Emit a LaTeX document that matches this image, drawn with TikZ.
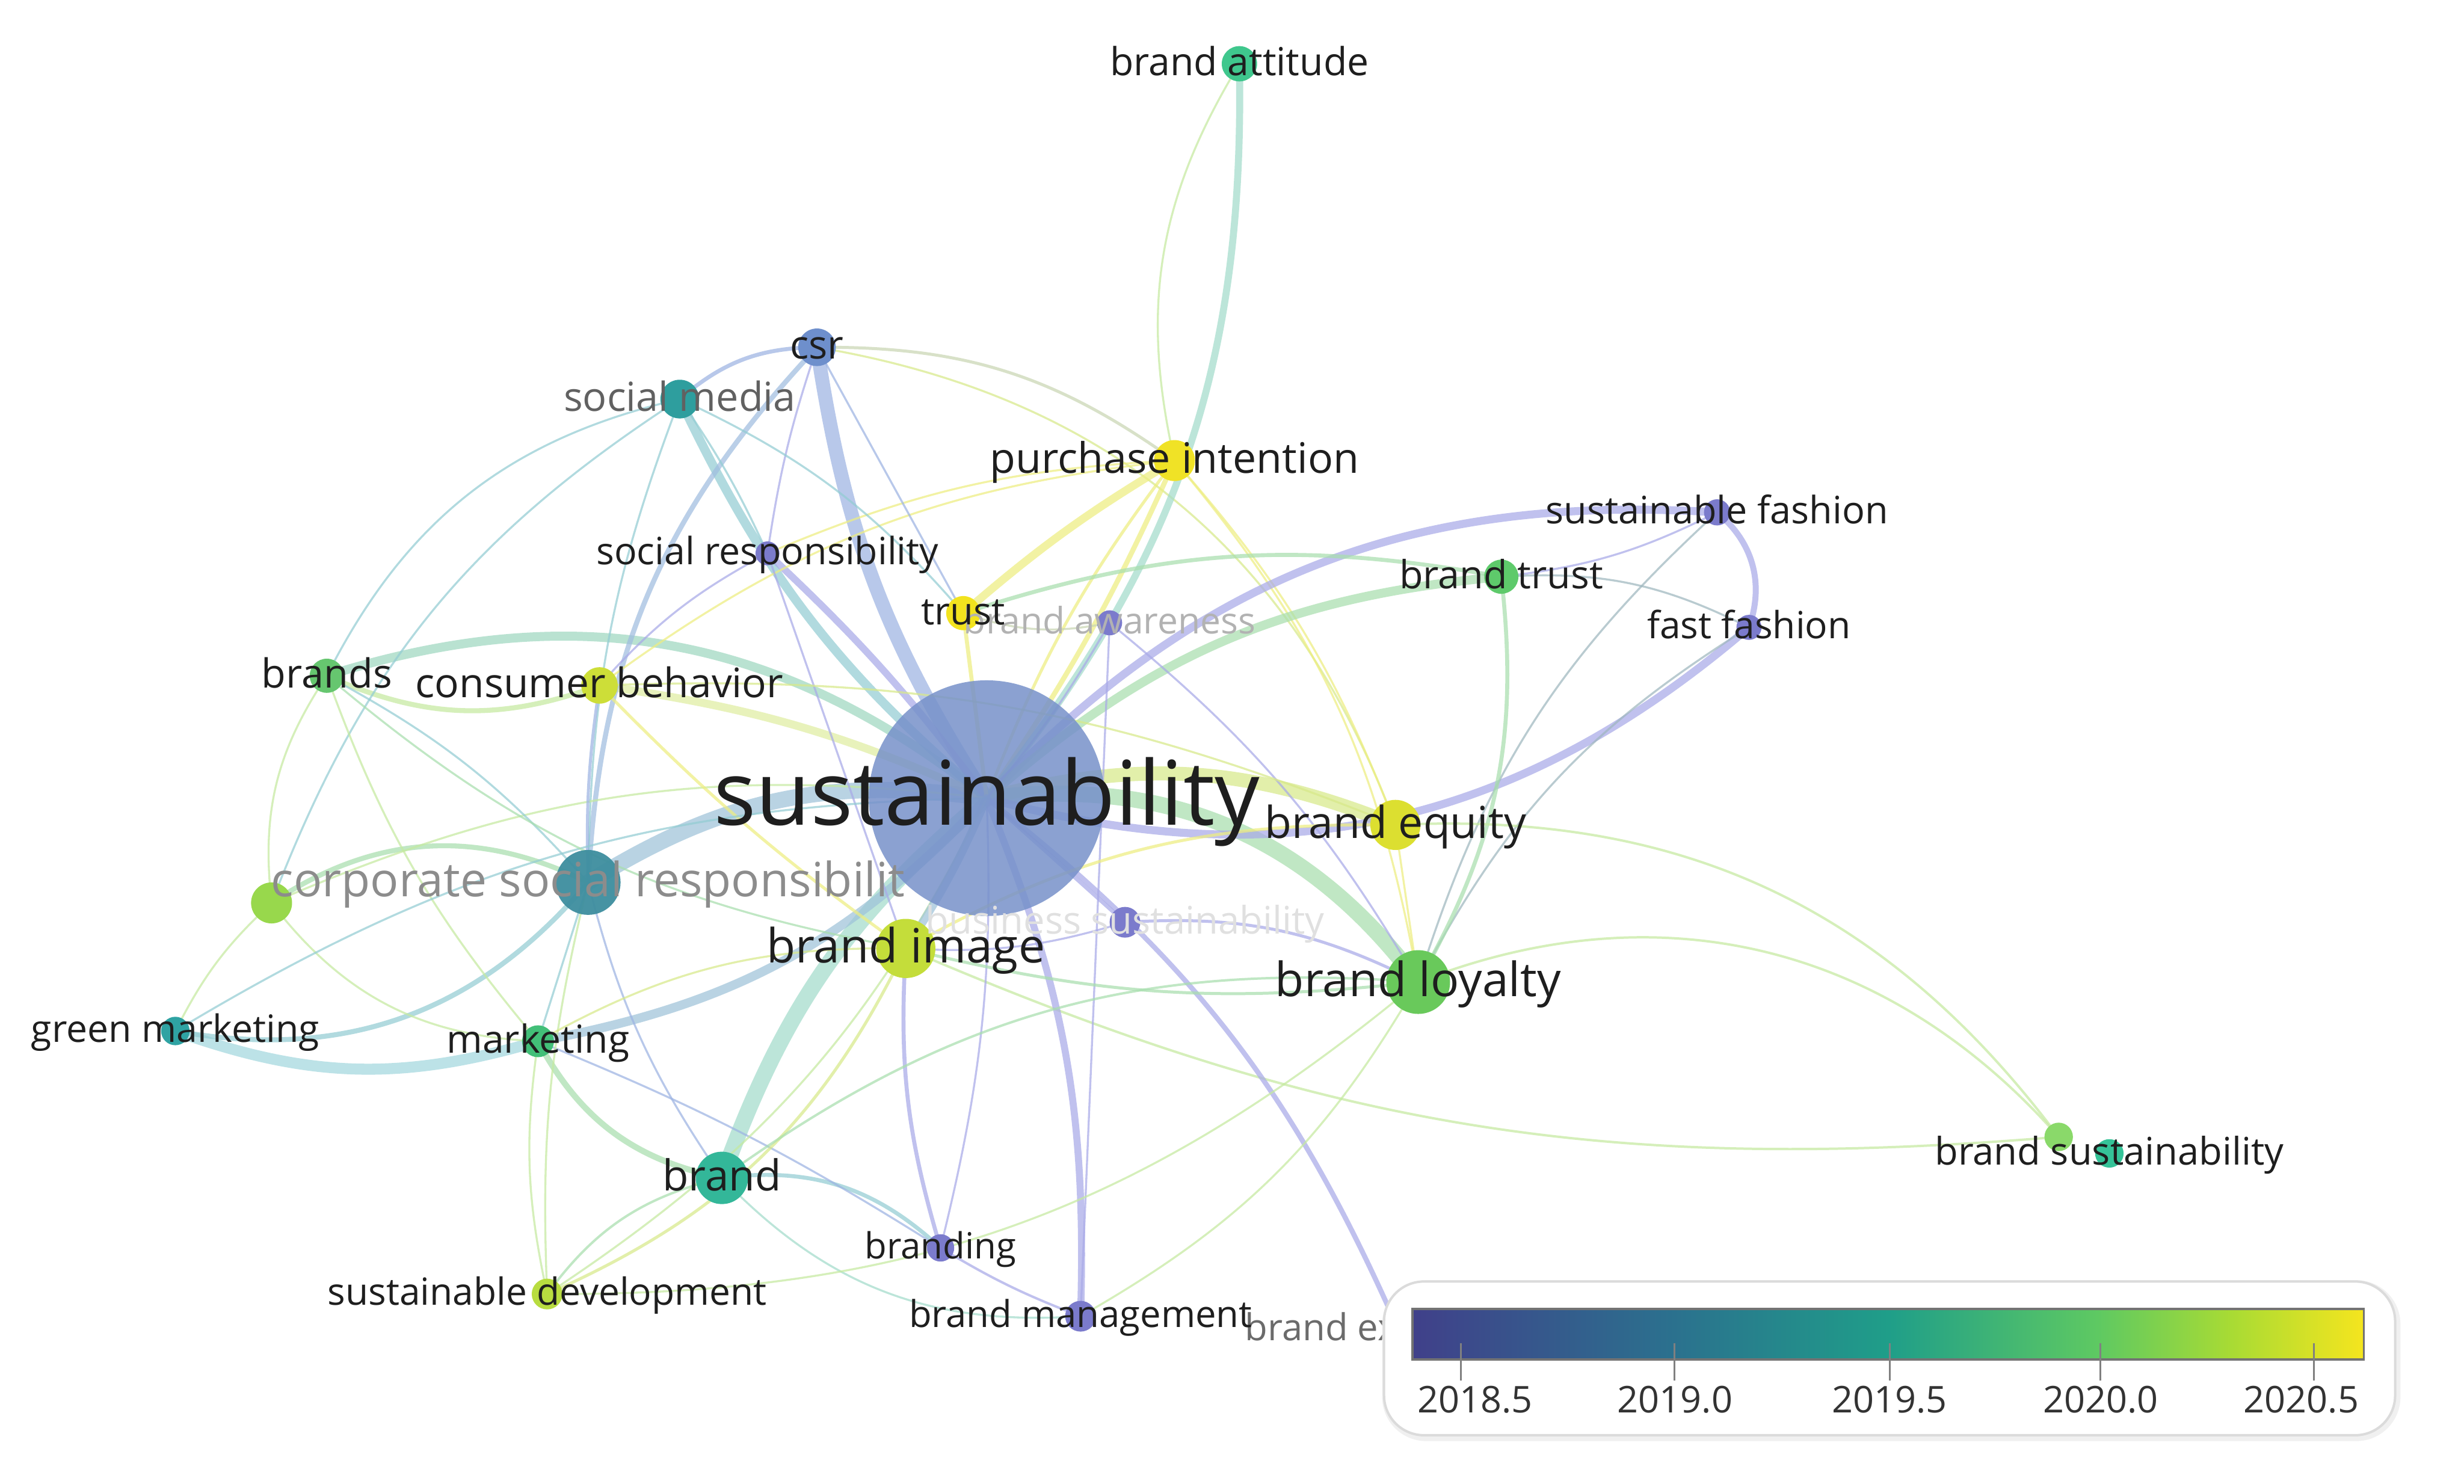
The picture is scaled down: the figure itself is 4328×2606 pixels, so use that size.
\documentclass[tikz,border=0pt]{standalone}
\usepackage{fontspec}
\setmainfont{Open Sans}
\pgfdeclarelayer{bg}
\pgfdeclarelayer{edges}
\pgfdeclarelayer{top}
\pgfsetlayers{bg,edges,main,top}
% node colours
\definecolor{cSust}{HTML}{7791CA}
\definecolor{cCsr}{HTML}{6E8FCC}
\definecolor{cSmedia}{HTML}{2E9E9E}
\definecolor{cYellow}{HTML}{F0E226}
\definecolor{cTrust}{HTML}{F2E31E}
\definecolor{cPurple}{HTML}{7B7BCC}
\definecolor{cBtrust}{HTML}{5ECA6B}
\definecolor{cBrands}{HTML}{66C66F}
\definecolor{cCbehav}{HTML}{CDDE38}
\definecolor{cBequity}{HTML}{DCDF30}
\definecolor{cCorp}{HTML}{3E8E9F}
\definecolor{cGnode}{HTML}{98D84C}
\definecolor{cBimage}{HTML}{C4DD3A}
\definecolor{cBloyal}{HTML}{69C95B}
\definecolor{cGmark}{HTML}{2FA3A3}
\definecolor{cMark}{HTML}{42BF78}
\definecolor{cBsA}{HTML}{8AD96A}
\definecolor{cBsB}{HTML}{35C398}
\definecolor{cBrand}{HTML}{33B799}
\definecolor{cSdev}{HTML}{B8DC40}
\definecolor{cAtt}{HTML}{3FC78D}
% edge colours
\definecolor{eBlue}{HTML}{9DB4E3}
\definecolor{eBlueB}{HTML}{A0BDE0}
\definecolor{eSteel}{HTML}{9EC3D9}
\definecolor{eTeal}{HTML}{93CDD3}
\definecolor{eCyan}{HTML}{A3D8DF}
\definecolor{eGT}{HTML}{9ED8C0}
\definecolor{eGreen}{HTML}{A8DFAE}
\definecolor{eLgreen}{HTML}{C5EAA0}
\definecolor{eYG}{HTML}{D8E98A}
\definecolor{eYellow}{HTML}{EEEE80}
\definecolor{ePurple}{HTML}{A9AAE8}
\definecolor{eGray}{HTML}{C9D6B4}
\definecolor{eGrayB}{HTML}{9FB7BF}
\definecolor{eMint}{HTML}{A3DCCB}
% text colours
\definecolor{labc}{HTML}{1E1E1E}
% legend colours
\definecolor{v0}{HTML}{40408A}
\definecolor{v1}{HTML}{2B718E}
\definecolor{v2}{HTML}{1F9E89}
\definecolor{v3}{HTML}{5EC962}
\definecolor{v4}{HTML}{A8DB34}
\definecolor{v5}{HTML}{F5E51E}
\pgfdeclarehorizontalshading{viridisbar}{100bp}{color(0bp)=(v0); color(25bp)=(v0); color(38.75bp)=(v1); color(50bp)=(v2); color(61bp)=(v3); color(68bp)=(v4); color(75bp)=(v5); color(100bp)=(v5)}
\newcommand{\lbs}{\rule[-0.25em]{0pt}{1.1em}}
\tikzset{
  nd/.style={circle, inner sep=0pt, draw=none, minimum size={2*#1*0.01cm}},
  lb/.style={inner sep=0pt, text=labc, font=\fontsize{#1}{#1}\selectfont},
  ed/.style={line cap=round, draw opacity=0.72},
}
\begin{document}
\begin{tikzpicture}[x=0.01cm,y=-0.01cm]
\begin{pgfonlayer}{bg}
\fill[white] (0,0) rectangle (4328,2606);
\end{pgfonlayer}
\useasboundingbox (0,0) rectangle (4328,2606);

% ---------------- nodes (circles)
\node[nd=207, fill=cSust, fill opacity=0.85] (sust) at (1733,1402) {};
\node[nd=33, fill=cCsr] (csr) at (1435,610) {};
\node[nd=34, fill=cSmedia] (smedia) at (1194,701) {};
\node[nd=36, fill=cYellow] (purch) at (2063,809) {};
\node[nd=21, fill=cPurple] (sresp) at (1348,972) {};
\node[nd=23, fill=cPurple] (sfash) at (3016,900) {};
\node[nd=30, fill=cBtrust] (btrust) at (2637,1013) {};
\node[nd=22, fill=cPurple] (ffash) at (3072,1102) {};
\node[nd=30, fill=cTrust] (trust) at (1692,1077) {};
\node[nd=22, fill=cPurple] (baware) at (1949,1094) {};
\node[nd=30, fill=cBrands] (brands) at (574,1187) {};
\node[nd=32, fill=cCbehav] (cbehav) at (1053,1204) {};
\node[nd=44, fill=cBequity] (bequity) at (2451,1449) {};
\node[nd=57, fill=cCorp, fill opacity=0.95] (corpsr) at (1033,1550) {};
\node[nd=36, fill=cGnode] (gnode) at (477,1586) {};
\node[nd=27, fill=cPurple] (bsust) at (1976,1620) {};
\node[nd=52, fill=cBimage] (bimage) at (1591,1666) {};
\node[nd=56, fill=cBloyal] (bloyal) at (2491,1725) {};
\node[nd=25, fill=cGmark] (gmark) at (308,1811) {};
\node[nd=28, fill=cMark] (mark) at (945,1829) {};
\node[nd=25, fill=cBsA] (bsustA) at (3616,1997) {};
\node[nd=25, fill=cBsB] (bsustB) at (3705,2026) {};
\node[nd=46, fill=cBrand] (brand) at (1268,2069) {};
\node[nd=24, fill=cPurple] (branding) at (1652,2192) {};
\node[nd=27, fill=cSdev] (sdev) at (961,2273) {};
\node[nd=27, fill=cPurple] (bmgmt) at (1898,2312) {};
\node[nd=24, fill=cPurple] (bex) at (2456,2335) {};
\node[nd=31, fill=cAtt] (batt) at (2177,112) {};

% ---------------- edges
\begin{pgfonlayer}{edges}
\draw[ed, eBlue, line width=7pt] (sust.center) to[bend left=12] (csr.center);
\draw[ed, eSteel, line width=8pt] (corpsr.center) to[bend left=20] (sust.center);
\draw[ed, eGT, line width=4.5pt] (brands.center) to[bend left=28] (sust.center);
\draw[ed, eYG!80, line width=4pt] (cbehav.center) to[bend left=8] (sust.center);
\draw[ed, eLgreen, line width=2.5pt] (brands.center) to[bend right=22] (cbehav.center);
\draw[ed, eYG, line width=7pt] (sust.center) to[bend left=18] (bequity.center);
\draw[ed, eGreen, line width=8pt] (sust.center) to[bend left=30] (bloyal.center);
\draw[ed, eMint, line width=8pt] (brand.center) to[bend left=15] (sust.center);
\draw[ed, eSteel, line width=4.5pt] (mark.center) to[bend right=18] (sust.center);
\draw[ed, eCyan, line width=5.5pt] (gmark.center) to[bend right=18] (mark.center);
\draw[ed, eTeal, line width=2.5pt] (gmark.center) to[bend right=30] (corpsr.center);
\draw[ed, eTeal, line width=4.5pt] (smedia.center) to[bend right=12] (sust.center);
\draw[ed, eBlue, line width=2pt] (smedia.center) to[bend left=20] (csr.center);
\draw[ed, eBlueB, line width=2.5pt] (csr.center) to[bend right=20] (corpsr.center);
\draw[ed, eTeal, line width=1pt] (smedia.center) to[bend right=10] (corpsr.center);
\draw[ed, eTeal, line width=1pt] (brands.center) to[bend left=25] (smedia.center);
\draw[ed, eTeal, line width=1pt] (smedia.center) to[bend right=18] (gnode.center);
\draw[ed, ePurple, line width=1pt] (csr.center) to[bend right=5] (sresp.center);
\draw[ed, eTeal, line width=1pt] (smedia.center) to[bend left=5] (sresp.center);
\draw[ed, ePurple, line width=3.5pt] (sresp.center) to[bend left=5] (sust.center);
\draw[ed, ePurple, line width=1pt] (sresp.center) to[bend right=10] (cbehav.center);
\draw[ed, eGray, line width=1.5pt] (csr.center) to[bend left=18] (purch.center);
\draw[ed, eYG, line width=1pt] (csr.center) to[bend left=30] (bequity.center);
\draw[ed, eYellow, line width=4pt] (purch.center) to[bend right=5] (trust.center);
\draw[ed, eYellow, line width=2.5pt] (purch.center) to[bend left=5] (sust.center);
\draw[ed, eYellow, line width=1.5pt] (purch.center) to[bend right=8] (sust.center);
\draw[ed, eYellow, line width=1pt] (purch.center) to[bend left=10] (bequity.center);
\draw[ed, eYellow, line width=1pt] (purch.center) to[bend left=15] (bloyal.center);
\draw[ed, eYellow, line width=1pt] (purch.center) to[bend right=15] (cbehav.center);
\draw[ed, eYellow, line width=1pt] (purch.center) to[bend right=10] (sresp.center);
\draw[ed, eMint, line width=3.5pt] (batt.center) to[bend left=20] (sust.center);
\draw[ed, eLgreen, line width=1pt] (batt.center) to[bend right=22] (purch.center);
\draw[ed, ePurple, line width=4pt] (sust.center) to[bend right=28] (ffash.center);
\draw[ed, ePurple, line width=4pt] (sust.center) to[bend left=25] (sfash.center);
\draw[ed, ePurple, line width=3pt] (sfash.center) to[bend left=35] (ffash.center);
\draw[ed, ePurple, line width=1pt] (sfash.center) to[bend left=10] (btrust.center);
\draw[ed, eGrayB, line width=1pt] (sfash.center) to[bend right=15] (bloyal.center);
\draw[ed, eGrayB, line width=1pt] (ffash.center) to[bend right=15] (bloyal.center);
\draw[ed, eGreen, line width=4.5pt] (btrust.center) to[bend right=18] (sust.center);
\draw[ed, eGreen, line width=2pt] (btrust.center) to[bend right=14] (trust.center);
\draw[ed, eGreen, line width=2pt] (btrust.center) to[bend left=18] (bloyal.center);
\draw[ed, eGrayB, line width=1pt] (btrust.center) to[bend left=15] (ffash.center);
\draw[ed, eYellow, line width=1pt] (bequity.center) to (bloyal.center);
\draw[ed, eLgreen, line width=1.2pt] (bloyal.center) to[bend left=35] (bsustA.center);
\draw[ed, eLgreen, line width=1.2pt] (bequity.center) to[bend left=28] (bsustA.center);
\draw[ed, eLgreen, line width=1.2pt] (bimage.center) to[bend right=14] (bsustA.center);
\draw[ed, ePurple, line width=3.5pt] (bmgmt.center) to[bend right=12] (sust.center);
\draw[ed, ePurple, line width=2.5pt] (sust.center) to[bend left=14] (bex.center);
\draw[ed, ePurple, line width=2pt] (branding.center) to[bend left=10] (bimage.center);
\draw[ed, ePurple, line width=1pt] (branding.center) to[bend right=8] (sust.center);
\draw[ed, eTeal, line width=2pt] (brand.center) to[bend left=25] (branding.center);
\draw[ed, ePurple, line width=1.2pt] (branding.center) to[bend right=5] (bmgmt.center);
\draw[ed, eMint, line width=1pt] (brand.center) to[bend right=25] (bmgmt.center);
\draw[ed, eBlue, line width=1pt] (mark.center) to[bend left=5] (branding.center);
\draw[ed, eGreen, line width=3pt] (mark.center) to[bend right=25] (brand.center);
\draw[ed, eGreen, line width=1.2pt] (brand.center) to[bend right=20] (sdev.center);
\draw[ed, eYG, line width=1.5pt] (sdev.center) to[bend right=20] (bimage.center);
\draw[ed, eLgreen, line width=1pt] (sdev.center) to[bend left=10] (mark.center);
\draw[ed, eLgreen, line width=1pt] (sdev.center) to[bend right=15] (sust.center);
\draw[ed, eLgreen, line width=1pt] (sdev.center) to[bend left=8] (corpsr.center);
\draw[ed, eGreen, line width=2.5pt] (gnode.center) to[bend left=30] (corpsr.center);
\draw[ed, eLgreen, line width=1pt] (gnode.center) to[bend left=20] (brands.center);
\draw[ed, eLgreen, line width=1pt] (gnode.center) to[bend right=10] (gmark.center);
\draw[ed, eLgreen, line width=1pt] (gnode.center) to[bend right=25] (mark.center);
\draw[ed, eLgreen, line width=1pt] (gnode.center) to[bend left=15] (sust.center);
\draw[ed, eTeal, line width=1pt] (brands.center) to[bend left=10] (corpsr.center);
\draw[ed, eLgreen, line width=1pt] (brands.center) to[bend right=10] (mark.center);
\draw[ed, eBlue, line width=1.5pt] (cbehav.center) to[bend right=5] (corpsr.center);
\draw[ed, eYellow, line width=1.5pt] (cbehav.center) to[bend right=5] (bimage.center);
\draw[ed, eTeal, line width=1pt] (corpsr.center) to (mark.center);
\draw[ed, eBlue, line width=1pt] (corpsr.center) to[bend right=10] (brand.center);
\draw[ed, eYellow, line width=2pt] (trust.center) to (sust.center);
\draw[ed, eGray, line width=1pt] (trust.center) to[bend right=15] (baware.center);
\draw[ed, ePurple, line width=1pt] (baware.center) to[bend left=5] (sust.center);
\draw[ed, ePurple, line width=1pt] (baware.center) to[bend left=10] (bloyal.center);
\draw[ed, ePurple, line width=1pt] (baware.center) to (bmgmt.center);
\draw[ed, ePurple, line width=2pt] (bsust.center) to (sust.center);
\draw[ed, ePurple, line width=1.5pt] (bsust.center) to[bend left=15] (bloyal.center);
\draw[ed, ePurple, line width=1pt] (bsust.center) to[bend left=10] (bimage.center);
\draw[ed, eGreen, line width=1.5pt] (bimage.center) to[bend right=10] (bloyal.center);
\draw[ed, eYellow, line width=1.5pt] (bimage.center) to[bend left=15] (bequity.center);
\draw[ed, eSteel, line width=4pt] (sust.center) to[bend left=5] (bimage.center);
\draw[ed, eYG, line width=1pt] (mark.center) to[bend left=15] (bimage.center);
\draw[ed, eGreen, line width=1.2pt] (brand.center) to[bend left=20] (bloyal.center);
\draw[ed, eLgreen, line width=1pt] (sdev.center) to[bend right=20] (bloyal.center);
\draw[ed, eTeal, line width=1pt] (smedia.center) to[bend left=12] (trust.center);
\draw[ed, eBlue, line width=1pt] (csr.center) to (trust.center);
\draw[ed, ePurple, line width=1pt] (sresp.center) to (bimage.center);
\draw[ed, eLgreen, line width=1pt] (bloyal.center) to[bend left=15] (bmgmt.center);
\draw[ed, eYG, line width=1pt] (cbehav.center) to[bend left=12] (bequity.center);
\draw[ed, eTeal, line width=1pt] (gmark.center) to[bend left=15] (sust.center);
\draw[ed, eGreen, line width=1pt] (brands.center) to[bend right=15] (bimage.center);
\end{pgfonlayer}

% ---------------- labels (faded first)
\node[lb=19, text=black!12] (bsustL) at (bsust) {\lbs business sustainability};
\node[lb=18.2, text=black!30] (bawareL) at (baware) {\lbs brand awareness};
\node[lb=18.5, text=black!58, anchor=west] (bexL) at (2186,2335) {\lbs brand ex};
\node[lb=23.6, text=black!45] (corpsrL) at (corpsr) {\lbs corporate social responsibilit};
\node[lb=20, text=black!62] (smediaL) at (smedia) {\lbs social media};
\node[lb=44.5] (sustL) at (sust) {\lbs sustainability};
\node[lb=19.7] (csrL) at (csr) {\lbs csr};
\node[lb=21] (purchL) at (purch) {\lbs purchase intention};
\node[lb=18.8] (srespL) at (sresp) {\lbs social responsibility};
\node[lb=18.9] (sfashL) at (sfash) {\lbs sustainable fashion};
\node[lb=19.4] (btrustL) at (btrust) {\lbs brand trust};
\node[lb=18.7] (ffashL) at (ffash) {\lbs fast fashion};
\node[lb=19] (trustL) at (trust) {\lbs trust};
\node[lb=20] (brandsL) at (brands) {\lbs brands};
\node[lb=20.3] (cbehavL) at (cbehav) {\lbs consumer behavior};
\node[lb=22] (bequityL) at (bequity) {\lbs brand equity};
\node[lb=23.6] (bimageL) at (bimage) {\lbs brand image};
\node[lb=23.6] (bloyalL) at (bloyal) {\lbs brand loyalty};
\node[lb=18.8] (gmarkL) at (gmark) {\lbs green marketing};
\node[lb=19.3] (markL) at (mark) {\lbs marketing};
\node[lb=19] (bsustBL) at (bsustB) {\lbs brand sustainability};
\node[lb=21.3] (brandL) at (brand) {\lbs brand};
\node[lb=18] (brandingL) at (branding) {\lbs branding};
\node[lb=18.7] (sdevL) at (sdev) {\lbs sustainable development};
\node[lb=18.5] (bmgmtL) at (bmgmt) {\lbs brand management};
\node[lb=19.3] (battL) at (batt) {\lbs brand attitude};

% ---------------- legend
\begin{pgfonlayer}{top}
\draw[black!6, line width=3pt, rounded corners=0.72cm] (2433,2254) rectangle (4211,2526);
\draw[black!14, line width=1.2pt, fill=white, rounded corners=0.7cm] (2431,2251) rectangle (4207,2521);
\shade[shading=viridisbar] (2481,2299) rectangle (4152,2388);
\draw[black!55, line width=1.1pt] (2481,2299) rectangle (4152,2388);
\foreach \tx in {2566,2941,3319,3689,4064}
  \draw[black!50, line width=0.9pt] (\tx,2359) -- (\tx,2425);
\node[lb=18.4, text=black!80] (t1) at (2591,2462) {\lbs 2018.5};
\node[lb=18.4, text=black!80] (t2) at (2942,2462) {\lbs 2019.0};
\node[lb=18.4, text=black!80] (t3) at (3319,2462) {\lbs 2019.5};
\node[lb=18.4, text=black!80] (t4) at (3690,2462) {\lbs 2020.0};
\node[lb=18.4, text=black!80] (t5) at (4042,2462) {\lbs 2020.5};
\end{pgfonlayer}
\end{tikzpicture}
\end{document}
